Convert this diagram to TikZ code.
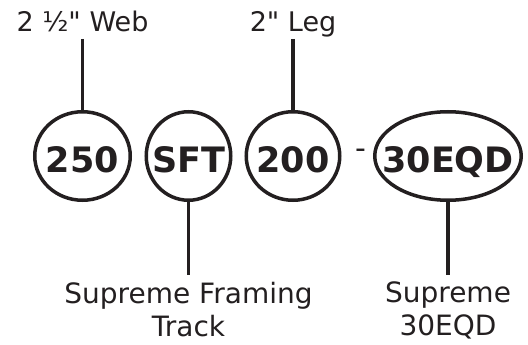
\documentclass[tikz,border=0pt]{standalone}
\usepackage{fontspec}
\setmainfont{DejaVu Sans}[Ligatures=TeXOff]
\usepackage{xcolor}
\usetikzlibrary{shapes.geometric, positioning}
\definecolor{ink}{RGB}{35,31,32}

\begin{document}
\begin{tikzpicture}[x=1pt, y=-1pt]
      \tikzset{
        code/.style={ellipse, draw=ink, line width=3.5pt, inner sep=-15pt,
                     minimum height=88.5pt, text height=32pt, text depth=0pt,
                     text=ink, font=\fontsize{35}{40}\selectfont\bfseries},
        toplabel/.style={inner xsep=0pt, inner ysep=7pt, text depth=0pt,
                         text=ink, font=\fontsize{27}{32}\selectfont},
        botlabel/.style={inner xsep=0pt, inner ysep=7pt, align=center,
                         text=ink, font=\fontsize{28}{33}\selectfont},
        stem/.style={draw=ink, line width=3.5pt}
      }
      \useasboundingbox (0,0) rectangle (528,345);

      \node[code, minimum width=95.5pt] (web) at (82.5,156) {250};
      \node[code, minimum width=84.5pt, right=12.5pt of web] (track) {SFT};
      \node[code, minimum width=93.5pt, right=12pt of track] (leg) {200};
      \node[inner sep=0pt, anchor=base, text=ink,
            font=\fontsize{30}{36}\selectfont] (dash) at (361,158.7) {-};
      \node[code, minimum width=146.5pt, right=31.5pt of leg] (series) {30EQD};

      \node[toplabel, above=71pt of web] (webtxt) {2 ½" Web};
      \node[toplabel, above=71pt of leg] (legtxt) {2" Leg};
      \node[botlabel, below=73pt of track] (tracktxt) {Supreme Framing\\Track};
      \node[botlabel, below=73pt of series] (seriestxt) {Supreme\\30EQD};

      \draw[stem] (webtxt.south) -- (web.north);
      \draw[stem] (legtxt.south) -- (leg.north);
      \draw[stem] (track.south) -- (tracktxt.north);
      \draw[stem] (series.south) -- (seriestxt.north);

    \end{tikzpicture}
\end{document}
